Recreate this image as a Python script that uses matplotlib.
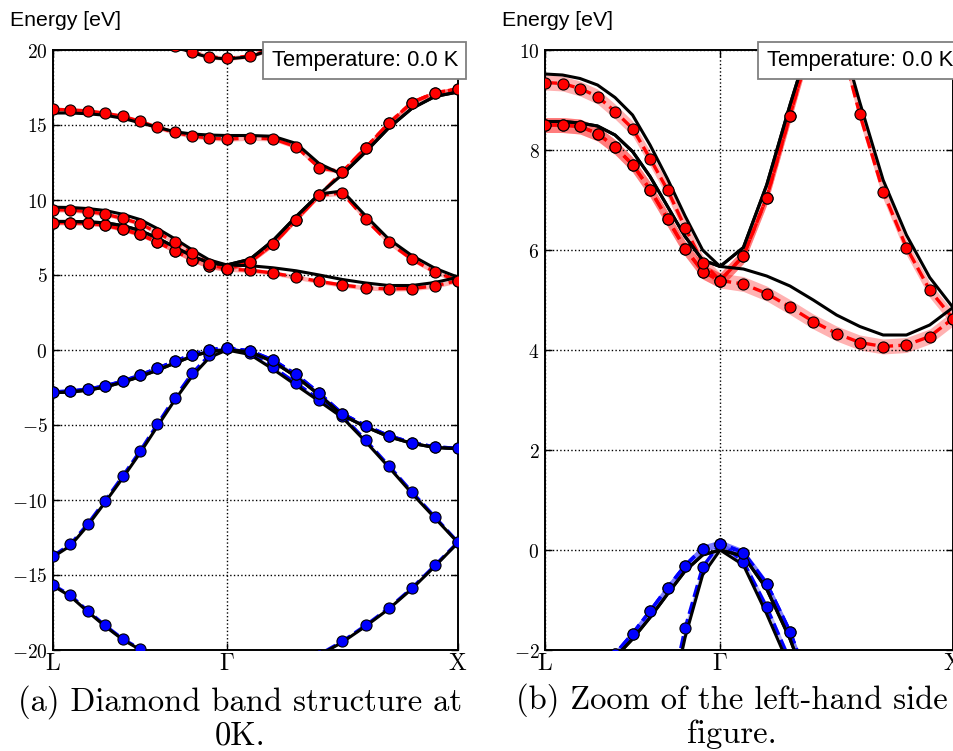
import numpy as np
import matplotlib
matplotlib.use('Agg')
import matplotlib.pyplot as plt
from matplotlib.ticker import FuncFormatter

plt.rcParams['mathtext.fontset'] = 'cm'

# k-path L -> Gamma -> X, 10 steps on each segment
k_ticks = [0.0, 1.0, 2.33]
k_labels = [r'$\mathrm{L}$', r'$\Gamma$', r'$\mathrm{X}$']
k = np.concatenate([np.linspace(0.0, 1.0, 11), np.linspace(1.0, 2.33, 11)[1:]])

# renormalized bands at T = 0 K (markers, dashed)
ren_v1 = [-15.66, -16.35, -17.39, -18.36, -19.25, -19.92, -20.50, -20.95, -21.25, -21.40, -21.45,
          -21.40, -21.25, -20.90, -20.30, -19.42, -18.36, -17.21, -15.88, -14.36, -12.81]
ren_v2 = [-13.72, -12.96, -11.59, -10.04, -8.43, -6.75, -4.96, -3.19, -1.56, -0.34, 0.13,
          -0.23, -1.14, -2.21, -3.30, -4.40, -6.00, -7.70, -9.45, -11.13, -12.81]
ren_v34 = [-2.79, -2.74, -2.61, -2.39, -2.08, -1.67, -1.22, -0.75, -0.31, 0.03, 0.13,
           -0.05, -0.67, -1.63, -2.88, -4.25, -5.04, -5.71, -6.17, -6.46, -6.55]
ren_c5 = [8.50, 8.50, 8.47, 8.33, 8.06, 7.71, 7.21, 6.62, 6.03, 5.57, 5.39,
          5.32, 5.13, 4.86, 4.57, 4.33, 4.15, 4.07, 4.10, 4.27, 4.63]
ren_c6 = [8.50, 8.50, 8.47, 8.33, 8.06, 7.71, 7.21, 6.62, 6.03, 5.57, 5.39,
          5.88, 7.05, 8.69, 10.32, 10.47, 8.71, 7.17, 6.05, 5.20, 4.63]
ren_c7 = [9.35, 9.33, 9.23, 9.07, 8.77, 8.43, 7.83, 7.20, 6.45, 5.75, 5.39,
          5.88, 7.05, 8.69, 10.32, 11.88, 13.48, 15.11, 16.50, 17.15, 17.40]
ren_c8 = [16.05, 16.00, 15.94, 15.78, 15.58, 15.25, 14.84, 14.51, 14.26, 14.13, 14.06,
          14.13, 14.08, 13.55, 12.14, 11.88, 13.48, 15.11, 16.50, 17.15, 17.40]
ren_c9 = [24.50, 24.30, 23.80, 23.00, 22.20, 21.40, 20.80, 20.30, 19.87, 19.55, 19.44,
          19.60, 20.10, 20.80, 21.60, 22.40, 23.00, 23.40, 23.60, 23.70, 23.70]

# reference (static) bands, black lines
dft_v1 = [-15.72, -16.42, -17.45, -18.42, -19.30, -19.97, -20.55, -21.00, -21.30, -21.45, -21.50,
          -21.45, -21.30, -20.95, -20.35, -19.48, -18.42, -17.27, -15.93, -14.42, -12.85]
dft_v2 = [-13.80, -13.05, -11.70, -10.15, -8.55, -6.88, -5.10, -3.35, -1.75, -0.50, 0.00,
          -0.30, -1.28, -2.35, -3.42, -4.50, -6.10, -7.80, -9.55, -11.20, -12.85]
dft_v34 = [-2.85, -2.80, -2.68, -2.47, -2.15, -1.78, -1.35, -0.88, -0.42, -0.10, 0.00,
           -0.12, -0.78, -1.78, -3.00, -4.35, -5.12, -5.78, -6.22, -6.50, -6.58]
dft_c5 = [8.57, 8.57, 8.54, 8.48, 8.30, 7.97, 7.47, 6.87, 6.27, 5.80, 5.67,
          5.62, 5.48, 5.28, 5.00, 4.70, 4.47, 4.30, 4.30, 4.50, 4.85]
dft_c6 = [8.57, 8.57, 8.54, 8.48, 8.30, 7.97, 7.47, 6.87, 6.27, 5.80, 5.67,
          6.05, 7.30, 8.90, 10.40, 10.60, 8.95, 7.40, 6.30, 5.45, 4.85]
dft_c7 = [9.52, 9.50, 9.43, 9.30, 9.05, 8.70, 8.10, 7.42, 6.68, 6.00, 5.67,
          6.05, 7.30, 8.90, 10.40, 11.70, 13.20, 14.80, 16.10, 16.90, 17.20]
dft_c8 = [15.80, 15.80, 15.75, 15.65, 15.45, 15.15, 14.85, 14.55, 14.40, 14.33, 14.30,
          14.30, 14.25, 13.77, 12.42, 11.70, 13.20, 14.80, 16.10, 16.90, 17.20]
dft_c9 = [24.40, 24.20, 23.70, 22.90, 22.10, 21.30, 20.70, 20.25, 19.82, 19.50, 19.40,
          19.55, 20.05, 20.70, 21.50, 22.30, 22.90, 23.30, 23.50, 23.60, 23.60]

# half width of the shaded uncertainty band (eV)
sigma_v = 0.07
sigma_c = 0.15

valence = [(ren_v1, dft_v1), (ren_v2, dft_v2), (ren_v34, dft_v34), (ren_v34, dft_v34)]
conduction = [(ren_c5, dft_c5), (ren_c6, dft_c6), (ren_c7, dft_c7), (ren_c8, dft_c8), (ren_c9, dft_c9)]


def draw_bands(ax, ylim, yticks):
    for bands, color, sig in [(valence, 'b', sigma_v), (conduction, 'r', sigma_c)]:
        for ren, dft in bands:
            ren = np.array(ren)
            ax.fill_between(k, ren - sig, ren + sig, color=color, alpha=0.3, lw=0, zorder=1)
            ax.plot(k, ren, color=color, ls='--', lw=2.4, zorder=2)
            ax.plot(k, dft, color='k', lw=2.2, zorder=3)
            ax.plot(k, ren, ls='none', marker='o', ms=8, mfc=color, mec='k', mew=0.8, zorder=4)

    ax.set_xlim(k_ticks[0], k_ticks[-1])
    ax.set_ylim(*ylim)
    ax.set_xticks(k_ticks)
    ax.set_xticklabels(k_labels)
    ax.set_yticks(yticks)
    ax.yaxis.set_major_formatter(FuncFormatter(lambda v, p: r'$%d$' % v))
    ax.tick_params(direction='in', top=True, right=True, length=5, width=1, labelsize=14)
    ax.tick_params(axis='x', pad=1, labelsize=17)
    ax.tick_params(axis='y', pad=4)
    ax.grid(True, ls=':', color='k', lw=1)
    for s in ax.spines.values():
        s.set_linewidth(1.4)
    ax.text(1.0, 1.0, 'Temperature: 0.0 K', transform=ax.transAxes, ha='right', va='top',
            fontsize=15.8, family='Liberation Sans', zorder=10,
            bbox=dict(boxstyle='square,pad=0.38', fc='white', ec='gray', lw=1.3))


fig = plt.figure(figsize=(9.54, 7.51), dpi=100)

ax1 = fig.add_axes([53 / 954, 101 / 751, 405 / 954, 600 / 751])
draw_bands(ax1, (-20, 20), [-20, -15, -10, -5, 0, 5, 10, 15, 20])

ax2 = fig.add_axes([545 / 954, 101 / 751, 408 / 954, 600 / 751])
draw_bands(ax2, (-2, 10), [-2, 0, 2, 4, 6, 8, 10])

fig.text(10 / 954, 1 - 26 / 751, 'Energy [eV]', fontsize=15.3, family='Liberation Sans', va='baseline')
fig.text(502 / 954, 1 - 26 / 751, 'Energy [eV]', fontsize=15.3, family='Liberation Sans', va='baseline')

fig.text(240 / 954, 1 - 718 / 751, '(a) Diamond band structure at\n0K.', ha='center', va='center',
         fontsize=23.5, family='cmr10', linespacing=1.12)
fig.text(732 / 954, 1 - 716 / 751, '(b) Zoom of the left-hand side\nfigure.', ha='center', va='center',
         fontsize=23.5, family='cmr10', linespacing=1.12)

fig.savefig('out.png', dpi=100)
